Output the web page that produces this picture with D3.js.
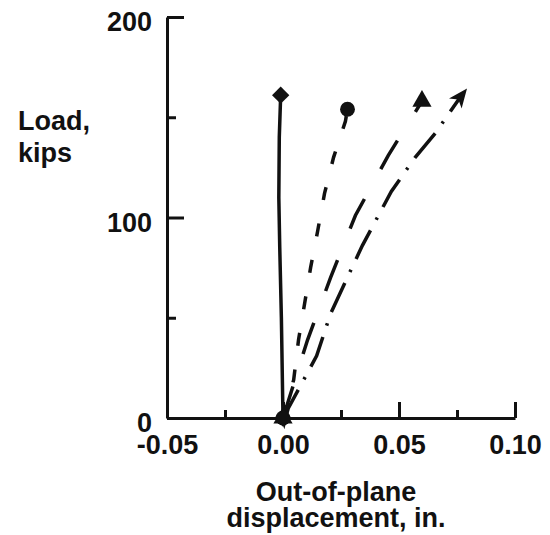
<!DOCTYPE html>
<meta charset="utf-8">
<head>
	<title>Out-of-plane displacement</title>
	<script src="https://d3js.org/d3.v7.min.js" charset="utf-8"></script>
</head>
<style type="text/css">
	body {
		margin: 0;
		background: #fff;
	}
	svg {
		display: block;
	}
	text {
		font-family: "Liberation Sans", Arial, sans-serif;
		font-weight: bold;
		font-size: 27px;
		fill: #111;
	}
	.axis path, .axis line {
		stroke: #111;
		stroke-width: 3px;
	}
	.series {
		fill: none;
		stroke: #111;
		stroke-width: 3.5px;
	}
</style>
<body>
<script>
	// tick values
	var xMajor = [-0.05, 0.00, 0.05, 0.10];
	var xMinor = [-0.025, 0.025, 0.075];
	var yMajor = [0, 100, 200];
	var yMinor = [50, 150];

	// solid line, diamond marker
	var diamondX = [0, -0.0007, -0.0014, -0.0018, -0.0016, -0.001];
	var diamondLoad = [0, 50, 85, 110, 140, 161];

	// short dashes, circle marker
	var circleX = [0, 0.0046, 0.0067, 0.0093, 0.0119, 0.0149, 0.0179, 0.0218, 0.0269, 0.0278];
	var circleLoad = [0, 19, 39, 57, 75, 93, 112, 130, 148, 154];

	// long dashes, triangle marker
	var triangleX = [0, 0.0106, 0.0205, 0.0312, 0.0454, 0.0599];
	var triangleLoad = [0, 39, 70, 101, 131, 158];

	// dash-dot, arrow marker
	var arrowX = [0, 0.0145, 0.0205, 0.0261, 0.0342, 0.0467, 0.0570, 0.0656, 0.0764];
	var arrowLoad = [0, 31, 52, 66, 86, 113, 130, 142, 160];

	var width = 550,
		height = 535;

	var svg = d3.select("body").append("svg")
		.attr("width", width)
		.attr("height", height);

	var x = d3.scaleLinear().domain([-0.05, 0.10]).range([167, 515]);
	var y = d3.scaleLinear().domain([0, 200]).range([418, 17]);

	function zip(xs, ys) {
		return xs.map(function(d, i) { return [d, ys[i]]; });
	}

	var series = [
		{ pts: zip(diamondX, diamondLoad), dash: null, mark: "diamond" },
		{ pts: zip(circleX, circleLoad), dash: "13,24", mark: "circle" },
		{ pts: zip(triangleX, triangleLoad), dash: "33,34", mark: "triangle" },
		{ pts: zip(arrowX, arrowLoad), dash: "32,12,2.5,12", mark: "arrow" }
	];

	// axes
	function styleAxis(g) {
		g.attr("font-size", null).attr("font-family", null);
		g.selectAll("text").attr("fill", null);
	}

	svg.append("g")
		.attr("class", "axis")
		.attr("transform", "translate(0," + y(0) + ")")
		.call(d3.axisBottom(x).tickValues(xMajor).tickSize(-16).tickSizeOuter(0)
			.tickPadding(17).tickFormat(function(d) { return d.toFixed(2); }))
		.call(styleAxis);

	svg.append("g")
		.attr("class", "axis")
		.attr("transform", "translate(0," + y(0) + ")")
		.call(d3.axisBottom(x).tickValues(xMinor).tickSize(-8).tickFormat(""))
		.call(function(g) { g.select(".domain").remove(); });

	svg.append("g")
		.attr("class", "axis")
		.attr("transform", "translate(" + x(-0.05) + ",0)")
		.call(d3.axisLeft(y).tickValues(yMajor).tickSize(-17).tickSizeOuter(0).tickPadding(15))
		.call(styleAxis)
		.call(function(g) { g.selectAll("text").attr("dy", "0.5em"); });

	svg.append("g")
		.attr("class", "axis")
		.attr("transform", "translate(" + x(-0.05) + ",0)")
		.call(d3.axisLeft(y).tickValues(yMinor).tickSize(-9).tickFormat(""))
		.call(function(g) { g.select(".domain").remove(); });

	// axis titles
	var yTitle = svg.append("text").attr("x", 18).attr("y", 130);
	yTitle.append("tspan").attr("x", 18).text("Load,");
	yTitle.append("tspan").attr("x", 18).attr("dy", 32).text("kips");

	var xTitle = svg.append("text").attr("text-anchor", "middle").attr("y", 501);
	xTitle.append("tspan").attr("x", 336).text("Out-of-plane");
	xTitle.append("tspan").attr("x", 336).attr("dy", 26).text("displacement, in.");

	// lines
	var line = d3.line()
		.x(function(d) { return x(d[0]); })
		.y(function(d) { return y(d[1]); });

	svg.selectAll(".series")
		.data(series)
		.enter().append("path")
		.attr("class", "series")
		.attr("d", function(d) { return line(d.pts); })
		.attr("stroke-dasharray", function(d) { return d.dash; });

	// markers at both ends; triangle drawn last so it sits on top at the origin
	var arrowPath = "M0,-11L8,8L0,3L-8,8Z";

	function markerPath(kind) {
		if (kind === "diamond") return d3.symbol(d3.symbolSquare, 150)();
		if (kind === "circle") return d3.symbol(d3.symbolCircle, 175)();
		if (kind === "triangle") return d3.symbol(d3.symbolTriangle, 160)();
		return arrowPath;
	}

	function markerRotate(kind) {
		if (kind === "diamond") return 45;
		if (kind === "arrow") return 38;
		return 0;
	}

	[series[3], series[1], series[0], series[2]].forEach(function(s) {
		var ends = [s.pts[0], s.pts[s.pts.length - 1]];
		svg.selectAll(null)
			.data(ends)
			.enter().append("path")
			.attr("d", markerPath(s.mark))
			.attr("fill", "#111")
			.attr("transform", function(d) {
				return "translate(" + x(d[0]) + "," + y(d[1]) + ") rotate(" + markerRotate(s.mark) + ")";
			});
	});
</script>
</body>
